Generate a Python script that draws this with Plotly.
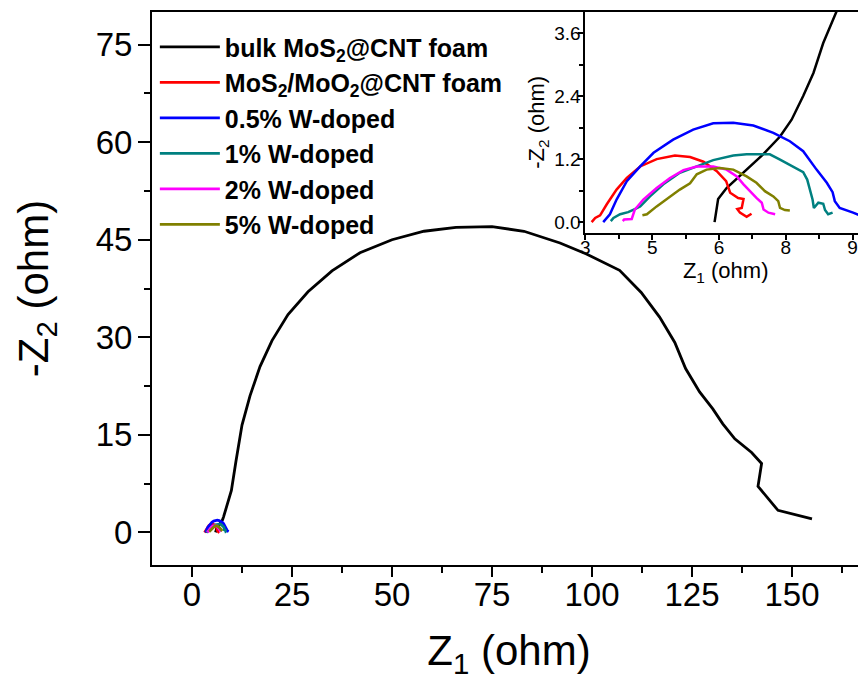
import plotly.graph_objects as go

# ---- data ----
names = ["bulk MoS<sub>2</sub>@CNT foam", "MoS<sub>2</sub>/MoO<sub>2</sub>@CNT foam",
         "0.5% W-doped", "1% W-doped", "2% W-doped", "5% W-doped"]
colors = ["#000000", "#ff0000", "#0000ff", "#008080", "#ff00ff", "#808000"]

bulk_x = [5.9, 5.98, 6.17, 6.55, 6.99, 7.37, 7.63, 7.89, 8.12, 8.34, 8.62, 9.2, 9.85,
          11, 12.5, 14.5, 17, 20, 24, 29, 35, 42, 50, 58, 66, 75, 83, 92, 98.6, 106.9,
          112.3, 116.9, 120.7, 123.4, 126.9, 130.2, 132.7, 135.7, 139.9, 142.4, 141.5,
          146.5, 155]
bulk_y = [0, 0.44, 0.65, 0.94, 1.29, 1.63, 1.95, 2.4, 2.84, 3.41, 3.99, 5.2, 6.45,
          11, 16.5, 21, 25.5, 29.5, 33.5, 37, 40.2, 43, 45, 46.3, 46.9, 47, 46.3, 44.5,
          42.8, 40.3, 36.9, 33.1, 29.2, 25.2, 21.6, 19.0, 16.7, 14.4, 12.3, 10.6, 7.1,
          3.4, 2.1]

red_x = [3.14, 3.22, 3.33, 3.48, 3.70, 3.93, 4.23, 4.60, 5.01, 5.35, 5.65, 5.95, 6.16,
         6.25, 6.43, 6.55, 6.51, 6.41, 6.47, 6.62, 6.73]
red_y = [0, 0.08, 0.13, 0.34, 0.62, 0.84, 1.06, 1.20, 1.27, 1.24, 1.15, 0.97, 0.78,
         0.56, 0.46, 0.44, 0.27, 0.25, 0.18, 0.10, 0.16]

blue_x = [3.40, 3.48, 3.55, 3.70, 3.93, 4.23, 4.53, 4.97, 5.42, 5.87, 6.32, 6.77, 7.22,
          7.59, 7.89, 8.19, 8.42, 8.55, 8.60, 8.71, 8.86, 9.01, 9.16]
blue_y = [0, 0.08, 0.15, 0.43, 0.78, 1.06, 1.32, 1.57, 1.76, 1.88, 1.89, 1.84, 1.70,
          1.54, 1.35, 1.00, 0.75, 0.57, 0.40, 0.27, 0.23, 0.18, 0.13]

teal_x = [3.57, 3.63, 3.78, 3.96, 4.11, 4.23, 4.45, 4.75, 5.12, 5.50, 5.87, 6.32, 6.62,
          6.92, 7.14, 7.37, 7.67, 7.89, 7.98, 8.04, 8.10, 8.13, 8.23, 8.34, 8.38, 8.45, 8.55]
teal_y = [0.02, 0.08, 0.15, 0.19, 0.25, 0.30, 0.49, 0.72, 0.94, 1.06, 1.18, 1.27, 1.29,
          1.29, 1.29, 1.19, 1.06, 0.95, 0.81, 0.62, 0.43, 0.27, 0.37, 0.35, 0.23, 0.15, 0.18]

mag_x = [3.84, 3.87, 4.04, 4.11, 4.30, 4.60, 4.90, 5.20, 5.50, 5.87, 6.17, 6.40, 6.55,
         6.69, 6.84, 6.96, 7.00, 7.11, 7.26]
mag_y = [0.02, 0.05, 0.06, 0.24, 0.43, 0.65, 0.84, 0.99, 1.06, 1.06, 1.00, 0.87, 0.72,
         0.59, 0.46, 0.37, 0.24, 0.18, 0.15]

olive_x = [4.28, 4.38, 4.60, 4.90, 5.12, 5.35, 5.50, 5.72, 6.02, 6.32, 6.62, 6.84, 7.03,
           7.22, 7.33, 7.37, 7.48, 7.59]
olive_y = [0.13, 0.15, 0.30, 0.49, 0.62, 0.74, 0.91, 1.00, 1.03, 1.00, 0.87, 0.75, 0.59,
           0.49, 0.40, 0.27, 0.23, 0.22]

series = [(bulk_x, bulk_y), (red_x, red_y), (blue_x, blue_y),
          (teal_x, teal_y), (mag_x, mag_y), (olive_x, olive_y)]

main_xticks = [0, 25, 50, 75, 100, 125, 150]
main_yticks = [0, 15, 30, 45, 60, 75]
inset_xticks = [3, 4.5, 6, 7.5, 9]
inset_xlabels = ["3", "5", "6", "8", "9"]
inset_yticks = [0, 1.2, 2.4, 3.6]
inset_ylabels = ["0.0", "1.2", "2.4", "3.6"]

FONT = "Liberation Sans, Arial, sans-serif"

fig = go.Figure()
for (xs, ys), n, c in zip(series, names, colors):
    fig.add_trace(go.Scatter(x=xs, y=ys, mode="lines", name=n,
                             line=dict(color=c, width=2.8), xaxis="x", yaxis="y"))
for (xs, ys), n, c in zip(series, names, colors):
    fig.add_trace(go.Scatter(x=xs, y=ys, mode="lines", name=n, showlegend=False,
                             line=dict(color=c, width=2.5), xaxis="x2", yaxis="y2"))

fig.update_layout(
    width=866, height=680,
    margin=dict(l=144, r=8, t=4, b=123, autoexpand=False),
    paper_bgcolor="white", plot_bgcolor="white",
    font=dict(family=FONT, color="black"),
    showlegend=True,
    legend=dict(x=0.004, y=0.978, xanchor="left", yanchor="top",
                bgcolor="rgba(0,0,0,0)", itemwidth=60, tracegroupgap=0,
                font=dict(family=FONT, size=25, weight="bold", color="black")),
    xaxis=dict(domain=[0, 1], range=[-10, 168.5], tickvals=main_xticks,
               automargin=False,
               showline=True, linecolor="black", linewidth=2, mirror=True,
               ticks="outside", ticklen=10, tickwidth=2, tickcolor="black",
               ticklabelstandoff=-11,
               minor=dict(dtick=12.5, tick0=0, ticks="outside", ticklen=6, tickwidth=2,
                          tickcolor="black"),
               showgrid=False, zeroline=False,
               tickfont=dict(size=33, family=FONT),
               title=dict(text="Z<sub>1</sub> (ohm)", font=dict(size=42, family=FONT),
                          standoff=24)),
    yaxis=dict(domain=[0, 1], range=[-5, 80], tickvals=main_yticks,
               automargin=False,
               showline=True, linecolor="black", linewidth=2, mirror=False,
               ticks="outside", ticklen=12, tickwidth=2, tickcolor="black",
               ticklabelstandoff=-1,
               minor=dict(dtick=7.5, tick0=0, ticks="outside", ticklen=6, tickwidth=2,
                          tickcolor="black"),
               showgrid=False, zeroline=False,
               tickfont=dict(size=33, family=FONT),
               title=dict(text="-Z<sub>2</sub> (ohm)", font=dict(size=42, family=FONT),
                          standoff=34)),
    xaxis2=dict(domain=[0.607, 1.0], anchor="y2", range=[3, 9.3],
                automargin=False,
                tickvals=inset_xticks, ticktext=inset_xlabels,
                showline=True, linecolor="black", linewidth=2,
                ticks="outside", ticklen=5, tickwidth=1.5, tickcolor="black",
                ticklabelstandoff=-8,
                minor=dict(tickvals=[3.75, 5.25, 6.75, 8.25], ticks="outside", ticklen=4,
                           tickwidth=1.5, tickcolor="black"),
                showgrid=False, zeroline=False,
                tickfont=dict(size=19, family=FONT),
                title=dict(text="Z<sub>1</sub> (ohm)", font=dict(size=22, family=FONT),
                           standoff=0)),
    yaxis2=dict(domain=[0.601, 1.0], anchor="x2", range=[-0.2, 4.0],
                automargin=False,
                tickvals=inset_yticks, ticktext=inset_ylabels,
                showline=True, linecolor="black", linewidth=2,
                ticks="outside", ticklen=5, tickwidth=1.5, tickcolor="black",
                ticklabelstandoff=-6,
                minor=dict(dtick=0.6, tick0=0, ticks="outside", ticklen=4,
                           tickwidth=1.5, tickcolor="black"),
                showgrid=False, zeroline=False,
                tickfont=dict(size=19, family=FONT),
                title=dict(text="-Z<sub>2</sub> (ohm)", font=dict(size=22, family=FONT),
                           standoff=3)),
)

fig.write_html("out.html")
